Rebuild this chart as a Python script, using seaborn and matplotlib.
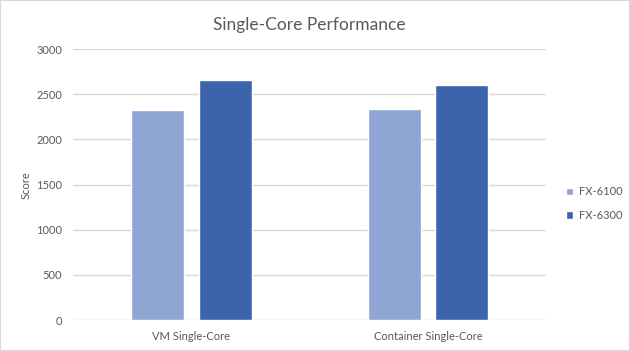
import seaborn as sns
import matplotlib.pyplot as plt
import pandas as pd
from matplotlib.patches import Rectangle

# data
categories = ['VM Single-Core', 'Container Single-Core']
fx6100 = [2327, 2338]
fx6300 = [2660, 2604]
series = ['FX-6100', 'FX-6300']

df = pd.DataFrame({
    'Category': categories * 2,
    'Score': fx6100 + fx6300,
    'CPU': [series[0]] * 2 + [series[1]] * 2,
})

sns.set_style('white')
plt.rcParams['font.family'] = ['Lato', 'DejaVu Sans']
grey = '#595959'

fig = plt.figure(figsize=(6.3, 3.51), dpi=100)
ax = fig.add_axes([0.116, 0.088, 0.751, 0.772])
sns.barplot(data=df, x='Category', y='Score', hue='CPU',
            palette=['#8FA5D4', '#3C64AC'], width=0.571, gap=0.215,
            saturation=1, ax=ax)

ax.set_ylim(0, 3000)
ax.set_xlim(-0.5, 1.5)
ax.set_yticks(range(0, 3001, 500))
ax.yaxis.grid(True, color='#D9D9D9', linewidth=1)
ax.set_axisbelow(True)
for s in ax.spines.values():
    s.set_visible(False)
ax.tick_params(axis='both', length=0, colors=grey, labelsize=8, pad=8)
ax.set_xlabel('')
ax.set_ylabel('Score', color=grey, fontsize=8, labelpad=3)
ax.set_title('Single-Core Performance', color=grey, fontsize=12.5, pad=14)

ax.legend(loc='center left', bbox_to_anchor=(1.02, 0.43), frameon=False,
          fontsize=8, labelcolor=grey, handlelength=0.7, handleheight=0.7,
          handletextpad=0.5, labelspacing=1.1)

fig.patches.append(Rectangle((0, 0), 1, 1, transform=fig.transFigure,
                             fill=False, edgecolor='#D9D9D9', linewidth=1.5))
fig.savefig('out.png', dpi=100)
